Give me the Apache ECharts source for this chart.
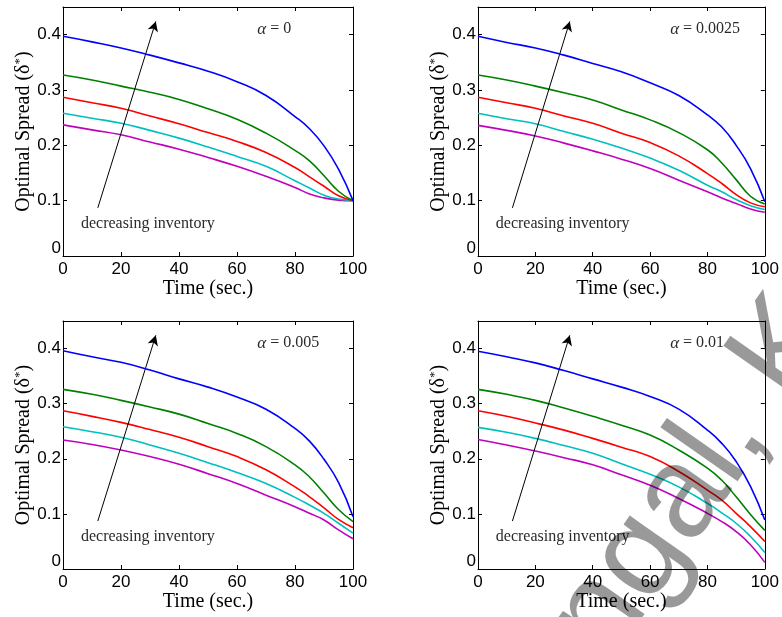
<!DOCTYPE html>
<html>
<head>
<meta charset="utf-8">
<script src="https://cdn.jsdelivr.net/npm/echarts@6/dist/echarts.min.js"></script>
<style>
html,body{margin:0;padding:0;background:#fff;}
#chart{width:782px;height:617px;}
</style>
</head>
<body>
<div id="chart"></div>
<script>
// ---- data ----
const time = [0, 10, 20, 30, 40, 50, 60, 70, 80, 85, 90, 95, 100];

const a0Blue    = [0.397, 0.387, 0.376, 0.363, 0.349, 0.334, 0.315, 0.290, 0.252, 0.230, 0.199, 0.157, 0.100];
const a0Green   = [0.327, 0.318, 0.307, 0.296, 0.283, 0.266, 0.247, 0.222, 0.191, 0.172, 0.145, 0.117, 0.100];
const a0Red     = [0.287, 0.277, 0.267, 0.253, 0.239, 0.223, 0.207, 0.187, 0.160, 0.143, 0.126, 0.109, 0.100];
const a0Cyan    = [0.258, 0.249, 0.240, 0.227, 0.213, 0.197, 0.180, 0.162, 0.136, 0.123, 0.110, 0.103, 0.100];
const a0Magenta = [0.237, 0.228, 0.219, 0.206, 0.193, 0.178, 0.162, 0.144, 0.124, 0.112, 0.105, 0.101, 0.100];

const a1Blue    = [0.397, 0.386, 0.376, 0.363, 0.348, 0.333, 0.313, 0.290, 0.255, 0.233, 0.200, 0.158, 0.098];
const a1Green   = [0.327, 0.318, 0.307, 0.295, 0.282, 0.264, 0.246, 0.223, 0.192, 0.168, 0.138, 0.108, 0.094];
const a1Red     = [0.287, 0.277, 0.267, 0.253, 0.240, 0.222, 0.205, 0.181, 0.149, 0.131, 0.111, 0.096, 0.089];
const a1Cyan    = [0.258, 0.248, 0.239, 0.225, 0.211, 0.195, 0.177, 0.155, 0.128, 0.116, 0.102, 0.091, 0.084];
const a1Magenta = [0.236, 0.227, 0.217, 0.204, 0.190, 0.175, 0.158, 0.137, 0.116, 0.105, 0.095, 0.085, 0.079];

const a2Blue    = [0.396, 0.385, 0.375, 0.361, 0.345, 0.330, 0.312, 0.290, 0.255, 0.232, 0.199, 0.157, 0.095];
const a2Green   = [0.326, 0.317, 0.306, 0.294, 0.281, 0.264, 0.246, 0.222, 0.189, 0.167, 0.138, 0.108, 0.086];
const a2Red     = [0.287, 0.277, 0.266, 0.253, 0.239, 0.222, 0.204, 0.180, 0.149, 0.131, 0.111, 0.090, 0.075];
const a2Cyan    = [0.258, 0.249, 0.239, 0.225, 0.210, 0.193, 0.175, 0.155, 0.130, 0.116, 0.101, 0.083, 0.065];
const a2Magenta = [0.234, 0.226, 0.216, 0.204, 0.190, 0.173, 0.155, 0.134, 0.113, 0.101, 0.089, 0.071, 0.055];

const a3Blue    = [0.395, 0.385, 0.374, 0.360, 0.345, 0.330, 0.313, 0.290, 0.252, 0.228, 0.195, 0.150, 0.089];
const a3Green   = [0.326, 0.317, 0.306, 0.292, 0.277, 0.261, 0.243, 0.216, 0.183, 0.161, 0.131, 0.099, 0.070];
const a3Red     = [0.287, 0.277, 0.265, 0.252, 0.237, 0.221, 0.204, 0.177, 0.143, 0.125, 0.101, 0.077, 0.050];
const a3Cyan    = [0.257, 0.248, 0.237, 0.224, 0.210, 0.191, 0.172, 0.149, 0.119, 0.102, 0.083, 0.059, 0.030];
const a3Magenta = [0.235, 0.225, 0.214, 0.202, 0.189, 0.171, 0.152, 0.128, 0.101, 0.086, 0.068, 0.044, 0.012];

const alphaLabels = ['0', '0.0025', '0.005', '0.01'];
const xTicks = [0, 20, 40, 60, 80, 100];
const yTicks = [0, 0.1, 0.2, 0.3, 0.4];
const arrowStart = [12, 0.087];
const arrowEnd = [32, 0.424];
const noteAnchor = [6.2, 0.058];
const alphaAnchor = [67, 0.41];
const noteText = 'decreasing inventory';
const xName = 'Time (sec.)';
const watermarkText = 'Jaimungal, K';

// ---- build ----
const panels = [
  [a0Blue, a0Green, a0Red, a0Cyan, a0Magenta],
  [a1Blue, a1Green, a1Red, a1Cyan, a1Magenta],
  [a2Blue, a2Green, a2Red, a2Cyan, a2Magenta],
  [a3Blue, a3Green, a3Red, a3Cyan, a3Magenta]
];
const colors = ['#0000FF', '#008000', '#FF0000', '#00BFBF', '#BF00BF'];
const gridPos = [
  {left: 63, top: 7, width: 290, height: 249},
  {left: 478, top: 7, width: 290, height: 249},
  {left: 63, top: 321, width: 290, height: 248},
  {left: 478, top: 321, width: 290, height: 248}
];
const sans = 'Liberation Sans';
const serif = 'Liberation Serif';

const grids = [], xAxes = [], yAxes = [], series = [];
panels.forEach((panel, g) => {
  grids.push(Object.assign({containLabel: false}, gridPos[g]));
  const tickCommon = {show: true, inside: true, length: 4, lineStyle: {color: '#000', width: 1}};
  const lineCommon = {show: true, onZero: false, lineStyle: {color: '#000', width: 1}};
  xAxes.push({
    gridIndex: g, type: 'value', position: 'bottom', min: 0, max: 100, interval: 20,
    axisLine: lineCommon, axisTick: tickCommon, splitLine: {show: false},
    axisLabel: {show: true, color: '#000', fontFamily: sans, fontSize: 17, margin: 5,
      formatter: v => xTicks.indexOf(v) >= 0 ? String(v) : ''},
    name: xName, nameLocation: 'middle', nameGap: 12,
    nameTextStyle: {fontFamily: serif, fontSize: 20, color: '#000', verticalAlign: 'top'}
  });
  xAxes.push({
    gridIndex: g, type: 'value', position: 'top', min: 0, max: 100, interval: 20,
    axisLine: lineCommon, axisTick: tickCommon, splitLine: {show: false}, axisLabel: {show: false}
  });
  yAxes.push({
    gridIndex: g, type: 'value', position: 'left', min: 0, max: 0.45, interval: 0.1,
    axisLine: lineCommon, axisTick: tickCommon, splitLine: {show: false},
    axisLabel: {show: true, color: '#000', fontFamily: sans, fontSize: 17, margin: 2, showMaxLabel: false,
      formatter: v => {
        const r = Math.round(v * 10) / 10;
        if (Math.abs(v - 0.45) < 1e-6) return '';
        if (r === 0) return '{z|0}';
        return yTicks.indexOf(r) >= 0 ? r.toFixed(1) : '';
      },
      rich: {z: {fontFamily: sans, fontSize: 17, color: '#000', padding: [0, 0, 16, 0]}}
    },
    name: 'Optimal Spread (δ{s|*})', nameLocation: 'middle', nameGap: 29, nameRotate: 90,
    nameTextStyle: {fontFamily: serif, fontSize: 20, color: '#000',
      rich: {s: {fontFamily: serif, fontSize: 13, color: '#000', verticalAlign: 'top', padding: [0, 0, 8, 0]}}}
  });
  yAxes.push({
    gridIndex: g, type: 'value', position: 'right', min: 0, max: 0.45, interval: 0.1,
    axisLine: lineCommon, axisTick: tickCommon, splitLine: {show: false}, axisLabel: {show: false}
  });
  panel.forEach((vals, k) => {
    const s = {
      type: 'line', xAxisIndex: 2 * g, yAxisIndex: 2 * g,
      data: time.map((t, i) => [t, vals[i]]),
      smooth: 0.5, showSymbol: false, symbol: 'none',
      lineStyle: {color: colors[k], width: 1.6}, itemStyle: {color: colors[k]},
      z: 5 - k, silent: true
    };
    if (k === 0) {
      s.markLine = {
        silent: true, animation: false,
        symbol: ['none', 'arrow'], symbolSize: [8, 10],
        lineStyle: {color: '#000', width: 1, type: 'solid'},
        label: {show: false},
        data: [[{coord: arrowStart}, {coord: arrowEnd}]]
      };
      s.markPoint = {
        silent: true, animation: false,
        data: [
          {coord: noteAnchor, symbol: 'rect', symbolSize: 0,
            label: {show: true, position: 'right', distance: 0, formatter: noteText,
              fontFamily: serif, fontSize: 16, color: '#2a2a2a'}},
          {coord: alphaAnchor, symbol: 'rect', symbolSize: 0,
            label: {show: true, position: 'right', distance: 0,
              formatter: '{a|α} = ' + alphaLabels[g],
              fontFamily: serif, fontSize: 16, color: '#2a2a2a',
              rich: {a: {fontFamily: serif, fontStyle: 'italic', fontSize: 17, color: '#2a2a2a'}}}}
        ]
      };
    }
    series.push(s);
  });
});

const chart = echarts.init(document.getElementById('chart'), null, {renderer: 'canvas'});
chart.setOption({
  animation: false,
  backgroundColor: '#fff',
  grid: grids, xAxis: xAxes, yAxis: yAxes, series: series,
  graphic: [{
    type: 'text', x: 433, y: 967, rotation: 55 * Math.PI / 180, z: 100, silent: true,
    style: {text: watermarkText, font: '130px "Liberation Sans"', fill: 'rgba(0,0,0,0.4)',
      align: 'left', verticalAlign: 'bottom'}
  }]
});
</script>
</body>
</html>
